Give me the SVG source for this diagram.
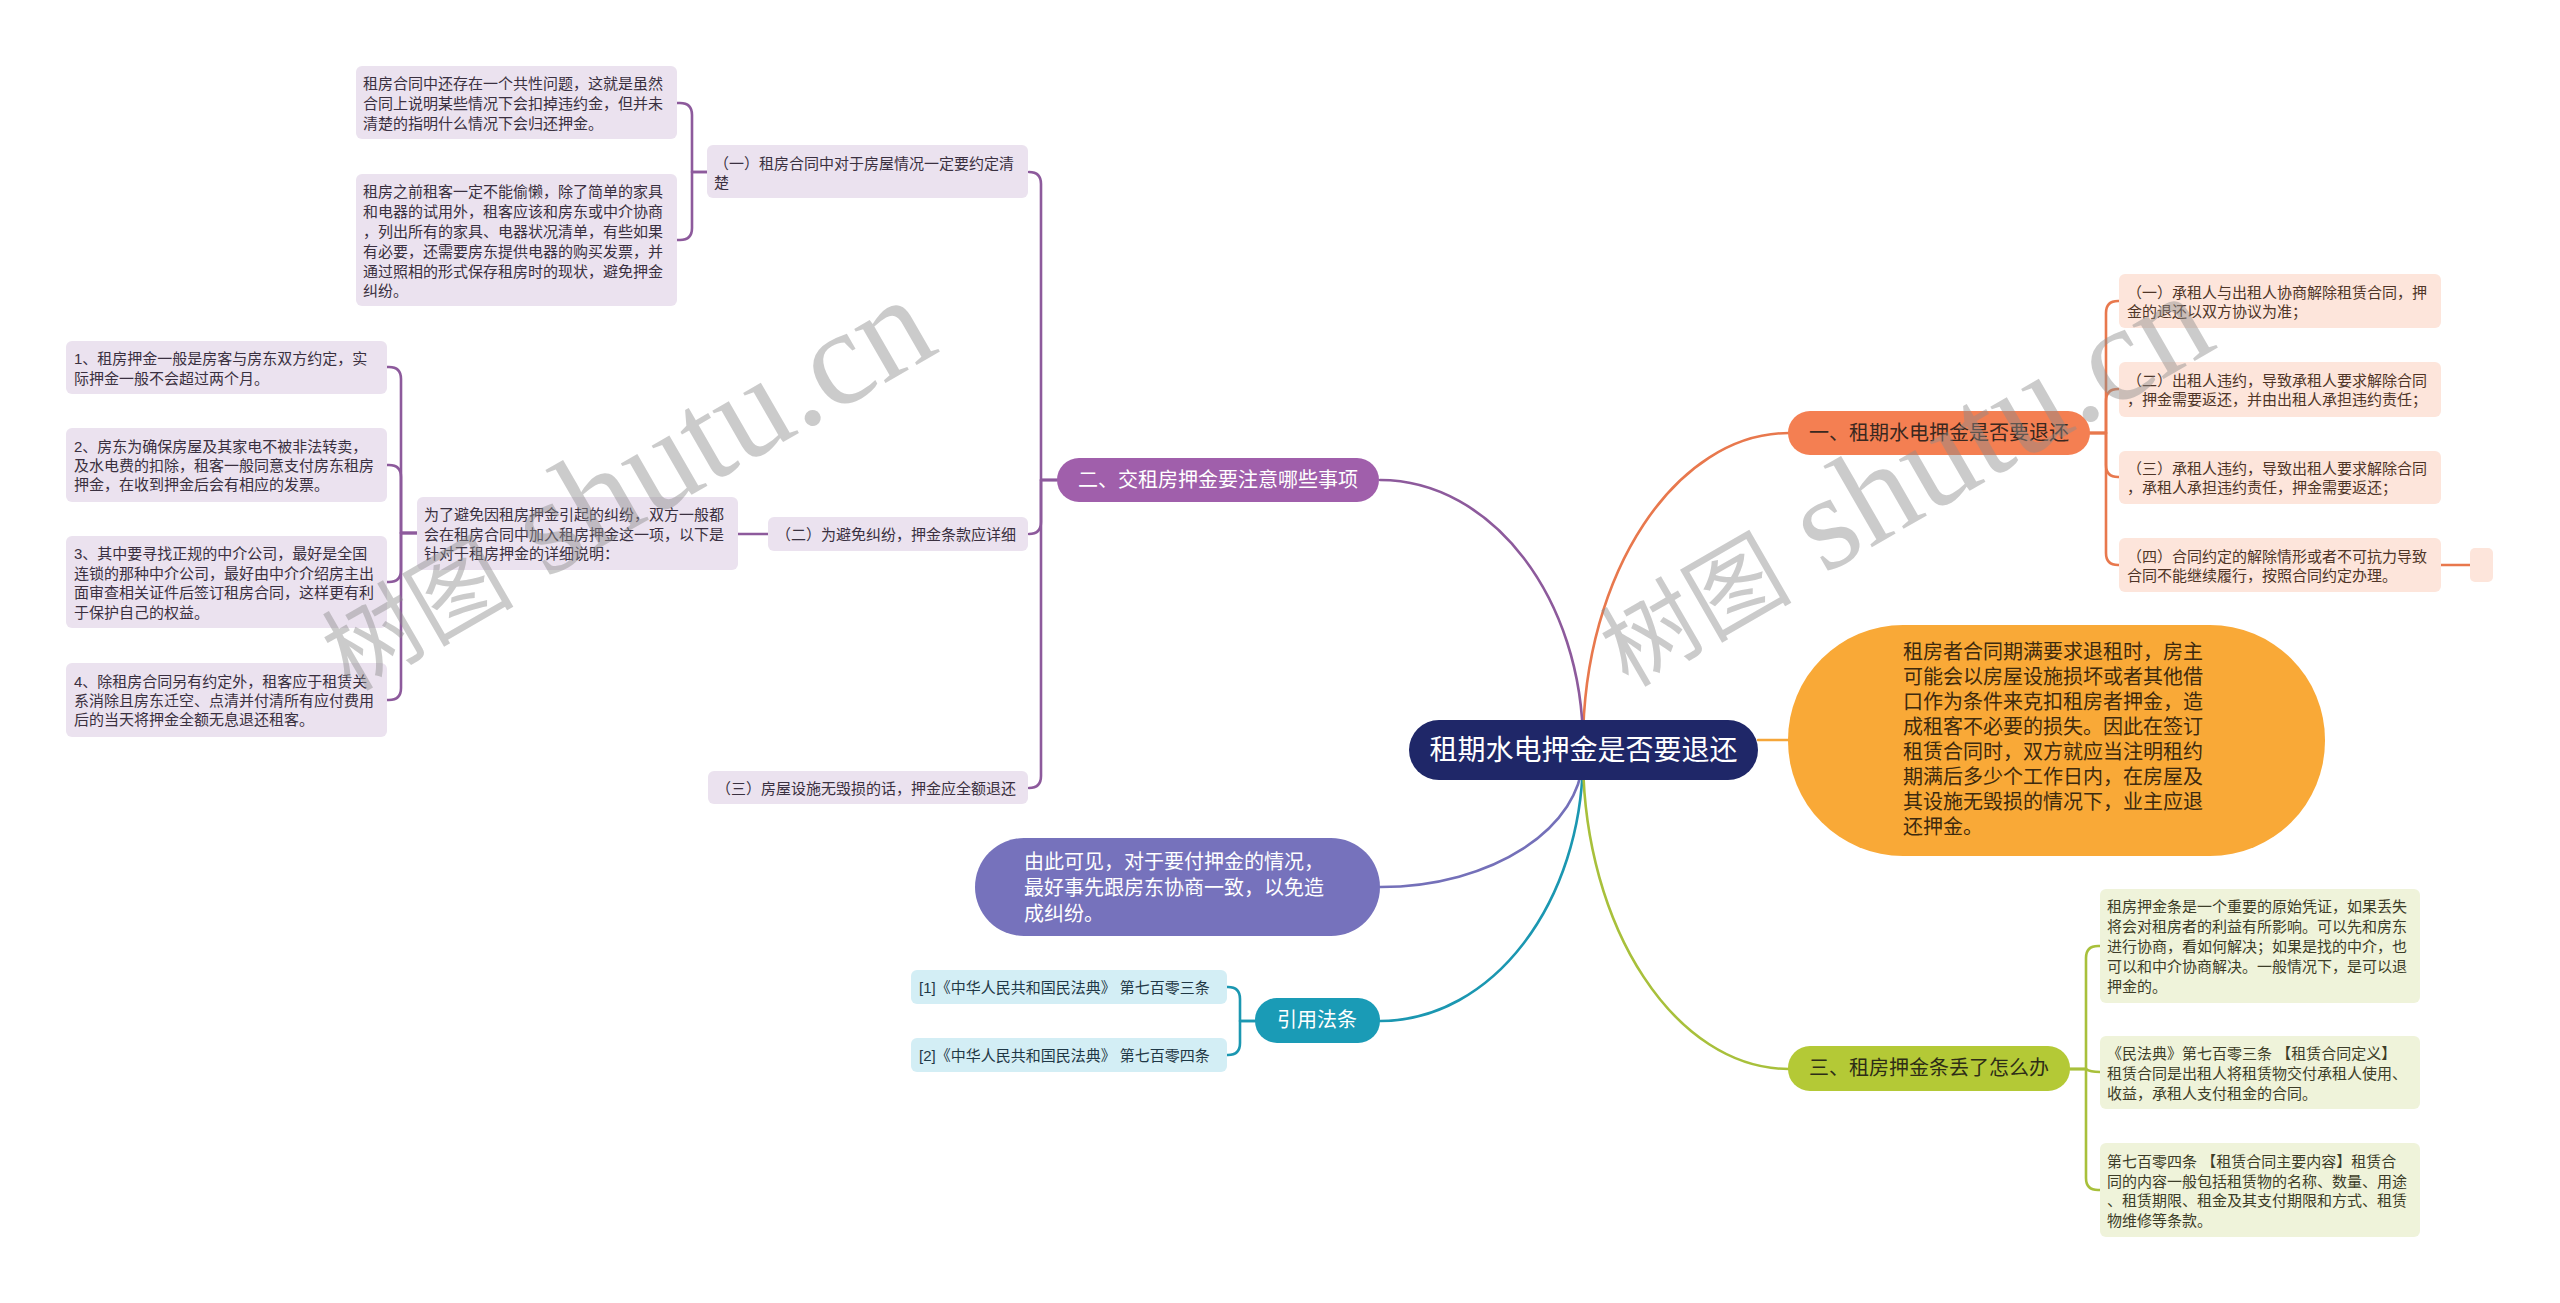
<svg xmlns="http://www.w3.org/2000/svg" width="2560" height="1303" viewBox="0 0 2560 1303">
<style>
text{font-family:"Liberation Sans","Noto Sans CJK SC",sans-serif;dominant-baseline:central}
.s{font-size:15px}
.m{font-size:20px}
.w{fill:#ffffff}
.lav rect{fill:#ebe2ef}
.lav text{fill:#3a3040}
.pea rect{fill:#fde5db}
.pea text{fill:#4f3527}
.grn rect{fill:#eff3da}
.grn text{fill:#3d3d28}
.blu rect{fill:#d3eef5}
.blu text{fill:#1f3846}
.c{fill:none;stroke-width:2.6;stroke-linecap:round;stroke-linejoin:round}
.cp{stroke:#8d5a9c}.co{stroke:#e8784d}.cg{stroke:#a8c03b}.ct{stroke:#1b97b1}.cv{stroke:#7470b9}.cy{stroke:#f5a63a}
.wm{font-family:"Liberation Serif","Noto Sans CJK SC",serif;fill:#8c8c8c;fill-opacity:0.45}
</style>
<rect x="0" y="0" width="2560" height="1303" fill="#ffffff"/>
<g id="connectors">
<path class="c co" d="M1583 745 C1583 573,1676 433,1789 433"/>
<path class="c cp" d="M1583 745 C1583 599,1492 480,1380 480"/>
<path class="c cv" d="M1583 755 C1583 828,1492 887,1380 887"/>
<path class="c ct" d="M1583 755 C1583 903,1492 1021,1380 1021"/>
<path class="c cg" d="M1583 755 C1583 928,1676 1069,1789 1069"/>
<path class="c cy" d="M1758 740 H1790"/>
<path class="c cp" d="M1057 480 H1041 V184 Q1041 172 1029 172"/>
<path class="c cp" d="M1057 480 H1041 V522 Q1041 534 1029 534"/>
<path class="c cp" d="M1057 480 H1041 V776 Q1041 788 1029 788"/>
<path class="c cp" d="M707 172 H692 V115 Q692 103 680 103 H677"/>
<path class="c cp" d="M707 172 H692 V228 Q692 240 680 240 H677"/>
<path class="c cp" d="M768 534 H738"/>
<path class="c cp" d="M417 533 H401 V379 Q401 367 389 367 H387"/>
<path class="c cp" d="M417 533 H401 V477 Q401 465 389 465 H387"/>
<path class="c cp" d="M417 533 H401 V570 Q401 582 389 582 H387"/>
<path class="c cp" d="M417 533 H401 V688 Q401 700 389 700 H387"/>
<path class="c co" d="M2089 433 H2106 V313 Q2106 301 2118 301 H2119"/>
<path class="c co" d="M2089 433 H2106 V401 Q2106 389 2118 389 H2119"/>
<path class="c co" d="M2089 433 H2106 V465 Q2106 477 2118 477 H2119"/>
<path class="c co" d="M2089 433 H2106 V553 Q2106 565 2118 565 H2119"/>
<path class="c co" d="M2441 565 H2470"/>
<path class="c cg" d="M2070 1069 H2086 V958 Q2086 946 2098 946 H2100"/>
<path class="c cg" d="M2070 1069 H2086 Q2090 1072 2100 1072"/>
<path class="c cg" d="M2070 1069 H2086 V1178 Q2086 1190 2098 1190 H2100"/>
<path class="c ct" d="M1255 1021 H1240 V999 Q1240 987 1228 987 H1227"/>
<path class="c ct" d="M1255 1021 H1240 V1043 Q1240 1055 1228 1055 H1227"/>
</g>
<g id="center">
<rect x="1409" y="720" width="349" height="60" rx="30" fill="#1f2768"/>
<text x="1583.5" y="750" class="w" font-size="28" text-anchor="middle">租期水电押金是否要退还</text>
</g>
<g id="n1">
<rect x="1788" y="411" width="302" height="44" rx="22" fill="#f47f52"/>
<text x="1939" y="433" class="m" text-anchor="middle" fill="#3a2820">一、租期水电押金是否要退还</text>
</g>
<g id="n1a" class="pea">
<rect x="2119" y="274" width="322" height="54" rx="6"/>
<text class="s" x="2127" y="292">（一）承租人与出租人协商解除租赁合同，押</text>
<text class="s" x="2127" y="311">金的退还以双方协议为准；</text>
</g>
<g id="n1b" class="pea">
<rect x="2119" y="362" width="322" height="55" rx="6"/>
<text class="s" x="2127" y="380">（二）出租人违约，导致承租人要求解除合同</text>
<text class="s" x="2127" y="399">，押金需要返还，并由出租人承担违约责任；</text>
</g>
<g id="n1c" class="pea">
<rect x="2119" y="451" width="322" height="53" rx="6"/>
<text class="s" x="2127" y="468">（三）承租人违约，导致出租人要求解除合同</text>
<text class="s" x="2127" y="487">，承租人承担违约责任，押金需要返还；</text>
</g>
<g id="n1d" class="pea">
<rect x="2119" y="538" width="322" height="54" rx="6"/>
<text class="s" x="2127" y="556">（四）合同约定的解除情形或者不可抗力导致</text>
<text class="s" x="2127" y="575">合同不能继续履行，按照合同约定办理。</text>
</g>
<g id="n1d1" class="pea">
<rect x="2470" y="548" width="23" height="34" rx="5"/>
</g>
<g id="n2big">
<rect x="1788" y="625" width="537" height="231" rx="115" fill="#f9a937"/>
<g fill="#3d2a0e" font-size="20">
<text x="1903" y="652">租房者合同期满要求退租时，房主</text>
<text x="1903" y="677">可能会以房屋设施损坏或者其他借</text>
<text x="1903" y="702">口作为条件来克扣租房者押金，造</text>
<text x="1903" y="727">成租客不必要的损失。因此在签订</text>
<text x="1903" y="752">租赁合同时，双方就应当注明租约</text>
<text x="1903" y="777">期满后多少个工作日内，在房屋及</text>
<text x="1903" y="802">其设施无毁损的情况下，业主应退</text>
<text x="1903" y="827">还押金。</text>
</g>
</g>
<g id="n3">
<rect x="1788" y="1046" width="282" height="45" rx="22" fill="#b4c936"/>
<text x="1929" y="1068" class="m" text-anchor="middle" fill="#2d2d16">三、租房押金条丢了怎么办</text>
</g>
<g id="n3a" class="grn">
<rect x="2100" y="889" width="320" height="114" rx="6"/>
<text class="s" x="2107" y="906">租房押金条是一个重要的原始凭证，如果丢失</text>
<text class="s" x="2107" y="926">将会对租房者的利益有所影响。可以先和房东</text>
<text class="s" x="2107" y="946">进行协商，看如何解决；如果是找的中介，也</text>
<text class="s" x="2107" y="966">可以和中介协商解决。一般情况下，是可以退</text>
<text class="s" x="2107" y="986">押金的。</text>
</g>
<g id="n3b" class="grn">
<rect x="2100" y="1036" width="320" height="73" rx="6"/>
<text class="s" x="2107" y="1053">《民法典》第七百零三条 【租赁合同定义】</text>
<text class="s" x="2107" y="1073">租赁合同是出租人将租赁物交付承租人使用、</text>
<text class="s" x="2107" y="1093">收益，承租人支付租金的合同。</text>
</g>
<g id="n3c" class="grn">
<rect x="2100" y="1143" width="320" height="94" rx="6"/>
<text class="s" x="2107" y="1161">第七百零四条 【租赁合同主要内容】租赁合</text>
<text class="s" x="2107" y="1181">同的内容一般包括租赁物的名称、数量、用途</text>
<text class="s" x="2107" y="1200">、租赁期限、租金及其支付期限和方式、租赁</text>
<text class="s" x="2107" y="1220">物维修等条款。</text>
</g>
<g id="n4">
<rect x="1057" y="458" width="322" height="44" rx="22" fill="#a05fab"/>
<text x="1218" y="480" class="m w" text-anchor="middle">二、交租房押金要注意哪些事项</text>
</g>
<g id="n4a" class="lav">
<rect x="707" y="145" width="321" height="53" rx="6"/>
<text class="s" x="714" y="163">（一）租房合同中对于房屋情况一定要约定清</text>
<text class="s" x="714" y="182">楚</text>
</g>
<g id="n4a1" class="lav">
<rect x="356" y="66" width="321" height="73" rx="6"/>
<text class="s" x="363" y="83">租房合同中还存在一个共性问题，这就是虽然</text>
<text class="s" x="363" y="103">合同上说明某些情况下会扣掉违约金，但并未</text>
<text class="s" x="363" y="123">清楚的指明什么情况下会归还押金。</text>
</g>
<g id="n4a2" class="lav">
<rect x="356" y="174" width="321" height="132" rx="6"/>
<text class="s" x="363" y="191">租房之前租客一定不能偷懒，除了简单的家具</text>
<text class="s" x="363" y="211">和电器的试用外，租客应该和房东或中介协商</text>
<text class="s" x="363" y="231">，列出所有的家具、电器状况清单，有些如果</text>
<text class="s" x="363" y="251">有必要，还需要房东提供电器的购买发票，并</text>
<text class="s" x="363" y="271">通过照相的形式保存租房时的现状，避免押金</text>
<text class="s" x="363" y="290">纠纷。</text>
</g>
<g id="n4b" class="lav">
<rect x="768" y="517" width="260" height="34" rx="6"/>
<text class="s" x="776" y="534">（二）为避免纠纷，押金条款应详细</text>
</g>
<g id="n4b1" class="lav">
<rect x="417" y="497" width="321" height="73" rx="6"/>
<text class="s" x="424" y="514">为了避免因租房押金引起的纠纷，双方一般都</text>
<text class="s" x="424" y="534">会在租房合同中加入租房押金这一项，以下是</text>
<text class="s" x="424" y="553">针对于租房押金的详细说明：</text>
</g>
<g id="n4b1a" class="lav">
<rect x="66" y="341" width="321" height="53" rx="6"/>
<text class="s" x="74" y="358">1、租房押金一般是房客与房东双方约定，实</text>
<text class="s" x="74" y="378">际押金一般不会超过两个月。</text>
</g>
<g id="n4b1b" class="lav">
<rect x="66" y="428" width="321" height="74" rx="6"/>
<text class="s" x="74" y="446">2、房东为确保房屋及其家电不被非法转卖，</text>
<text class="s" x="74" y="465">及水电费的扣除，租客一般同意支付房东租房</text>
<text class="s" x="74" y="484">押金，在收到押金后会有相应的发票。</text>
</g>
<g id="n4b1c" class="lav">
<rect x="66" y="536" width="321" height="92" rx="6"/>
<text class="s" x="74" y="553">3、其中要寻找正规的中介公司，最好是全国</text>
<text class="s" x="74" y="573">连锁的那种中介公司，最好由中介介绍房主出</text>
<text class="s" x="74" y="592">面审查相关证件后签订租房合同，这样更有利</text>
<text class="s" x="74" y="612">于保护自己的权益。</text>
</g>
<g id="n4b1d" class="lav">
<rect x="66" y="663" width="321" height="74" rx="6"/>
<text class="s" x="74" y="681">4、除租房合同另有约定外，租客应于租赁关</text>
<text class="s" x="74" y="700">系消除且房东迁空、点清并付清所有应付费用</text>
<text class="s" x="74" y="719">后的当天将押金全额无息退还租客。</text>
</g>
<g id="n4c" class="lav">
<rect x="708" y="771" width="320" height="33" rx="6"/>
<text class="s" x="716" y="788">（三）房屋设施无毁损的话，押金应全额退还</text>
</g>
<g id="n5">
<rect x="975" y="838" width="405" height="98" rx="49" fill="#7672bc"/>
<text x="1024" y="862" class="m w">由此可见，对于要付押金的情况，</text>
<text x="1024" y="888" class="m w">最好事先跟房东协商一致，以免造</text>
<text x="1024" y="914" class="m w">成纠纷。</text>
</g>
<g id="n6">
<rect x="1255" y="998" width="125" height="45" rx="22" fill="#1a9bb6"/>
<text x="1317" y="1020" class="m w" text-anchor="middle">引用法条</text>
</g>
<g id="n6a" class="blu">
<rect x="911" y="970" width="316" height="34" rx="6"/>
<text class="s" x="919" y="987">[1]《中华人民共和国民法典》 第七百零三条</text>
</g>
<g id="n6b" class="blu">
<rect x="911" y="1038" width="316" height="34" rx="6"/>
<text class="s" x="919" y="1055">[2]《中华人民共和国民法典》 第七百零四条</text>
</g>
<g id="watermark">
<text class="wm" transform="translate(350 692) rotate(-30)" style="dominant-baseline:alphabetic"><tspan font-size="96">树图</tspan><tspan font-size="136"> shutu.cn</tspan></text>
<text class="wm" transform="translate(1628 688) rotate(-30)" style="dominant-baseline:alphabetic"><tspan font-size="96">树图</tspan><tspan font-size="136"> shutu.cn</tspan></text>
</g>
</svg>
